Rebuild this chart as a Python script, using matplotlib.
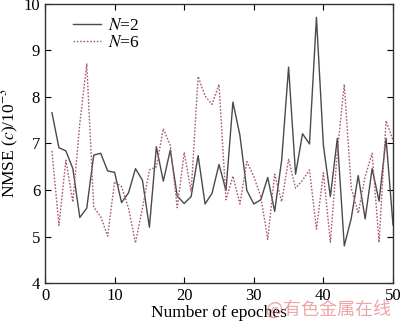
import matplotlib
matplotlib.use("Agg")
import matplotlib.pyplot as plt
import numpy as np

epochs = list(range(1, 51))
n2 = [7.66, 6.91, 6.84, 6.46, 5.41, 5.61, 6.75, 6.79, 6.41, 6.38,
      5.73, 5.94, 6.46, 6.21, 5.20, 6.93, 6.19, 6.86, 5.87, 5.71,
      5.86, 6.74, 5.70, 5.93, 6.55, 5.99, 7.89, 7.18, 5.99, 5.70,
      5.79, 6.27, 5.54, 6.64, 8.64, 6.34, 7.21, 6.99, 9.71, 6.96,
      5.86, 7.11, 4.80, 5.39, 6.31, 5.38, 6.46, 5.76, 7.11, 5.25]
n6 = [6.84, 5.24, 6.64, 5.74, 7.43, 8.71, 5.63, 5.43, 5.01, 6.18,
      6.07, 5.61, 4.86, 5.61, 6.43, 6.50, 7.32, 6.96, 5.62, 6.81,
      5.96, 8.44, 8.02, 7.84, 8.27, 5.79, 6.30, 5.70, 6.61, 6.29,
      5.86, 4.94, 6.34, 5.75, 6.66, 6.04, 6.21, 6.43, 5.16, 6.37,
      4.88, 6.82, 8.27, 6.04, 5.50, 6.29, 6.79, 4.87, 7.49, 7.07]
xticks = [0, 10, 20, 30, 40, 50]
yticks = [4, 5, 6, 7, 8, 9, 10]

plt.rcParams['font.family'] = ['Liberation Serif', 'DejaVu Serif']
plt.rcParams['mathtext.fontset'] = 'stix'

fig = plt.figure(figsize=(4.0, 3.25), dpi=100)
ax = fig.add_axes([0.1125, 0.129, 0.87, 0.859])
ax.plot(epochs, n2, color='#4a4a4a', lw=1.0, ls='-', label='$N$=2')
ax.plot(epochs, n6, color='#a85a74', lw=1.0, ls=(0, (1.2, 1.2)), label='$N$=6')
ax.set_xlim(0, 50)
ax.set_ylim(4, 10)
ax.set_xticks(xticks)
ax.set_yticks(yticks)
ax.tick_params(direction='in', top=True, right=True, labelsize=12, length=4, width=0.8)
for s in ax.spines.values():
    s.set_linewidth(1.0)
    s.set_color('#333333')
ax.set_xlabel('Number of epoches', fontsize=12.5, labelpad=1)
ax.set_ylabel('NMSE ($c$)/10$^{-3}$', fontsize=12.5, labelpad=2)
ax.legend(loc='upper left', frameon=False, fontsize=12.5, handlelength=1.6,
          handletextpad=0.4, labelspacing=0.05, borderaxespad=0.4, bbox_to_anchor=(0.04, 1.0))
fig.text(0.978, 0.048, '@有色金属在线', ha='right', va='center', fontsize=13,
         color='#e68080', alpha=0.7, family=['Noto Sans CJK SC', 'DejaVu Sans'])
fig.savefig('out.png', dpi=100)
